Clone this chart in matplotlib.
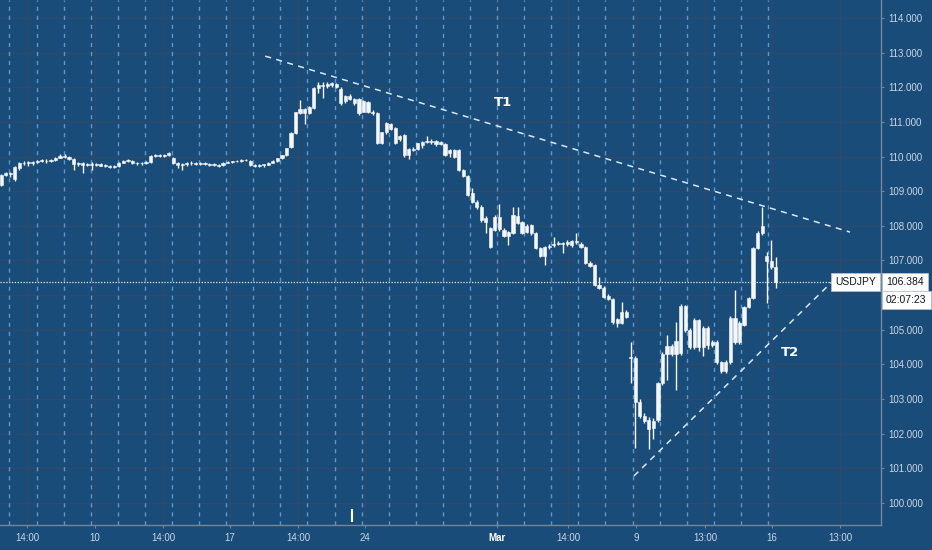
import numpy as np
import matplotlib.pyplot as plt
from matplotlib import transforms

plt.rcParams['font.family'] = ['Liberation Sans', 'DejaVu Sans']

# USDJPY, 4h candles (one row = 10 candles)
OPEN = [
    109.18, 109.48, 109.52, 109.35, 109.67, 109.80, 109.82, 109.81, 109.84, 109.87,
    109.88, 109.86, 109.90, 109.97, 110.02, 109.99, 109.92, 109.78, 109.80, 109.77,
    109.78, 109.75, 109.78, 109.74, 109.73, 109.71, 109.72, 109.82, 109.88, 109.87,
    109.80, 109.81, 109.80, 109.85, 110.02, 110.04, 110.03, 110.05, 109.97, 109.82,
    109.76, 109.78, 109.80, 109.81, 109.79, 109.81, 109.79, 109.77, 109.76, 109.76,
    109.82, 109.84, 109.86, 109.88, 109.89, 109.88, 109.76, 109.74, 109.75, 109.77,
    109.82, 109.87, 109.96, 110.04, 110.28, 110.68, 111.25, 111.36, 111.26, 111.40,
    111.97, 112.06, 112.03, 112.07, 112.10, 111.95, 111.60, 111.75, 111.66, 111.66,
    111.30, 111.58, 111.29, 111.26, 110.39, 110.70, 110.95, 110.82, 110.50, 110.62,
    110.05, 110.22, 110.22, 110.32, 110.42, 110.45, 110.44, 110.41, 110.36, 110.10,
    110.19, 110.19, 109.61, 109.44, 108.95, 108.69, 108.54, 108.23, 107.94, 107.88,
    108.26, 107.88, 107.70, 107.79, 108.28, 108.11, 107.82, 108.02, 107.79, 107.36,
    107.13, 107.39, 107.44, 107.48, 107.50, 107.47, 107.45, 107.56, 107.47, 107.39,
    106.93, 106.87, 106.29, 106.21, 105.98, 105.89, 105.31, 105.20, 105.51, 104.20,
    104.19, 102.92, 102.51, 102.40, 102.15, 102.40, 103.46, 104.30, 104.53, 104.30,
    104.33, 105.69, 104.99, 104.50, 105.28, 104.50, 105.05, 104.56, 104.65, 104.07,
    103.81, 104.07, 105.34, 104.65, 105.14, 105.66, 105.92, 107.36, 107.79, 107.13,
    106.98, 106.81,
]
HIGH = [
    109.50, 109.56, 109.55, 109.72, 109.85, 109.86, 109.88, 109.87, 109.90, 109.92,
    109.93, 109.92, 110.00, 110.06, 110.08, 110.03, 109.95, 109.84, 109.85, 109.82,
    109.83, 109.81, 109.80, 109.78, 109.76, 109.76, 109.84, 109.90, 109.92, 109.89,
    109.84, 109.85, 109.86, 110.04, 110.08, 110.07, 110.08, 110.14, 110.00, 109.85,
    109.80, 109.84, 109.86, 109.85, 109.84, 109.84, 109.82, 109.80, 109.79, 109.84,
    109.86, 109.88, 109.90, 109.92, 109.93, 109.90, 109.79, 109.78, 109.79, 109.84,
    109.90, 109.97, 110.05, 110.26, 110.72, 111.30, 111.62, 111.40, 111.46, 112.00,
    112.15, 112.15, 112.16, 112.16, 112.12, 112.00, 111.78, 111.82, 111.68, 111.68,
    111.62, 111.60, 111.35, 111.30, 110.72, 111.00, 110.98, 110.85, 110.62, 110.65,
    110.24, 110.28, 110.40, 110.46, 110.58, 110.52, 110.48, 110.46, 110.40, 110.22,
    110.22, 110.21, 109.65, 109.46, 109.09, 108.75, 108.60, 108.28, 107.98, 108.30,
    108.62, 107.94, 107.86, 108.54, 108.54, 108.15, 108.04, 108.06, 107.82, 107.40,
    107.42, 107.48, 107.68, 107.55, 107.54, 107.58, 107.60, 107.80, 107.52, 107.42,
    106.98, 106.90, 106.53, 106.26, 106.02, 105.93, 105.35, 105.80, 105.56, 104.65,
    104.25, 103.00, 102.60, 102.48, 102.45, 103.50, 104.35, 104.85, 104.60, 105.22,
    105.75, 105.72, 105.05, 105.35, 105.32, 105.10, 105.10, 104.70, 104.70, 104.10,
    104.12, 105.40, 106.15, 105.25, 105.70, 105.96, 107.40, 107.84, 108.53, 107.24,
    107.59, 107.10,
]
LOW = [
    109.15, 109.44, 109.42, 109.30, 109.62, 109.76, 109.74, 109.77, 109.80, 109.83,
    109.82, 109.84, 109.88, 109.95, 109.96, 109.90, 109.61, 109.74, 109.52, 109.72,
    109.62, 109.72, 109.72, 109.70, 109.68, 109.67, 109.70, 109.80, 109.84, 109.78,
    109.76, 109.77, 109.78, 109.82, 109.99, 110.00, 110.00, 110.02, 109.78, 109.68,
    109.62, 109.74, 109.76, 109.76, 109.75, 109.76, 109.74, 109.72, 109.70, 109.74,
    109.80, 109.82, 109.84, 109.85, 109.86, 109.72, 109.71, 109.70, 109.71, 109.75,
    109.80, 109.85, 109.94, 110.01, 110.25, 110.65, 111.22, 110.95, 111.22, 111.38,
    111.84, 111.70, 111.98, 112.00, 111.98, 111.50, 111.55, 111.62, 111.50, 111.20,
    111.28, 111.25, 111.20, 110.36, 110.36, 110.65, 110.78, 110.35, 110.45, 110.00,
    109.92, 110.15, 110.20, 110.25, 110.38, 110.36, 110.30, 110.34, 110.02, 110.00,
    109.95, 109.58, 109.40, 108.86, 108.65, 108.50, 108.10, 107.79, 107.36, 107.84,
    107.86, 107.68, 107.45, 107.76, 108.04, 107.76, 107.78, 107.75, 107.33, 107.10,
    106.87, 107.33, 107.40, 107.44, 107.23, 107.42, 107.40, 107.48, 107.36, 106.90,
    106.80, 106.26, 106.18, 105.92, 105.85, 105.18, 105.08, 105.16, 105.34, 103.46,
    101.60, 102.45, 102.30, 101.55, 101.85, 102.35, 103.40, 103.55, 104.25, 103.26,
    104.28, 104.95, 104.45, 104.45, 104.40, 104.25, 104.45, 104.50, 104.00, 103.75,
    103.76, 104.02, 104.60, 104.60, 105.10, 105.62, 105.88, 107.32, 107.75, 105.77,
    106.76, 106.21,
]
CLOSE = [
    109.47, 109.52, 109.49, 109.70, 109.80, 109.82, 109.81, 109.84, 109.87, 109.88,
    109.86, 109.89, 109.97, 110.02, 109.99, 109.92, 109.78, 109.80, 109.77, 109.78,
    109.75, 109.78, 109.74, 109.73, 109.71, 109.70, 109.82, 109.88, 109.87, 109.80,
    109.81, 109.80, 109.84, 110.02, 110.04, 110.03, 110.05, 110.10, 109.82, 109.76,
    109.78, 109.80, 109.81, 109.79, 109.81, 109.79, 109.77, 109.76, 109.74, 109.82,
    109.84, 109.86, 109.88, 109.89, 109.90, 109.76, 109.74, 109.75, 109.77, 109.82,
    109.87, 109.96, 110.04, 110.24, 110.68, 111.28, 111.36, 111.26, 111.43, 111.97,
    112.06, 112.05, 112.10, 112.13, 112.02, 111.55, 111.74, 111.66, 111.55, 111.26,
    111.60, 111.29, 111.26, 110.39, 110.70, 110.97, 110.80, 110.39, 110.60, 110.05,
    110.22, 110.20, 110.38, 110.42, 110.45, 110.43, 110.36, 110.37, 110.05, 110.18,
    109.99, 109.61, 109.44, 108.89, 108.69, 108.54, 108.17, 108.11, 107.39, 108.26,
    107.90, 107.71, 107.82, 108.31, 108.08, 107.79, 108.00, 107.79, 107.36, 107.13,
    107.39, 107.42, 107.48, 107.50, 107.47, 107.53, 107.56, 107.52, 107.39, 106.93,
    106.84, 106.29, 106.21, 105.95, 105.89, 105.22, 105.20, 105.51, 105.38, 104.19,
    102.92, 102.51, 102.37, 102.14, 102.38, 103.46, 104.30, 104.53, 104.30, 104.67,
    105.69, 104.99, 104.50, 105.28, 104.50, 105.05, 104.56, 104.65, 104.07, 103.81,
    104.07, 105.34, 104.65, 105.20, 105.66, 105.92, 107.36, 107.79, 108.00, 106.98,
    106.81, 106.384,
]
LAST = CLOSE[-1]

TIME_LABELS = ["14:00", "10", "14:00", "17", "14:00", "24", "Mar",
               "14:00", "9", "13:00", "16", "13:00"]
TIME_TICKS = [5.72, 20.73, 35.74, 50.53, 65.54, 80.33, 109.47,
              125.14, 140.15, 155.39, 170.18, 185.2]
PRICE_TICKS = [p for p in range(100, 115) if p != 106]

# hand drawn trend lines (candle index, price)
T1_X, T1_Y = [58.3, 187.4], [112.90, 107.82]
T2_X, T2_Y = [139.7, 183.4], [100.78, 106.38]
MARKER_X = 77.46

BG = "#1a4c79"
GRID = "#2e4a68"
SESSION = "#5a97d2"
CANDLE = "#f4f8fc"
AXIS = "#72879c"
TEXT = "#c9d6e3"

fig = plt.figure(figsize=(9.32, 5.5), dpi=100)
fig.patch.set_facecolor(BG)
ax = fig.add_axes([0, 25 / 550, 881 / 932, 525 / 550])
ax.set_facecolor(BG)

for p in range(100, 115):
    ax.axhline(p, color=GRID, lw=1, zorder=0)
for t in TIME_TICKS:
    ax.axvline(t, color=GRID, lw=1, zorder=0)
for d in np.arange(1.85, 170, 5.98):   # session breaks, one per day
    ax.axvline(d, color=SESSION, lw=1, ls=(0, (3, 3.5)), zorder=1)

o, h, l, c = map(np.asarray, (OPEN, HIGH, LOW, CLOSE))
x = np.arange(len(o))
ax.vlines(x, l, h, color=CANDLE, lw=1, zorder=3)
body = np.maximum(np.abs(c - o), 0.025)
ax.bar(x, body, bottom=np.minimum(o, c), width=0.7, color=CANDLE,
       edgecolor=CANDLE, linewidth=0.4, zorder=4)

ax.axhline(LAST, color="#e8f0f8", lw=0.9, ls=(0, (1, 1.3)), zorder=5)
ax.plot(T1_X, T1_Y, color="#d6e8f7", lw=1.1, ls=(0, (4, 3.5)), zorder=6)
ax.plot(T2_X, T2_Y, color="#d6e8f7", lw=1.1, ls=(0, (4, 3.5)), zorder=6)
ax.text(110.8, 111.55, "T1", color="white", fontsize=9.5, fontweight="bold",
        ha="center", va="center", family="DejaVu Sans", zorder=7)
ax.text(174.2, 104.33, "T2", color="white", fontsize=9.5, fontweight="bold",
        ha="center", va="center", family="DejaVu Sans", zorder=7)
ax.axvline(MARKER_X, ymin=0.008, ymax=0.029, color="white", lw=1.5, zorder=7)

ax.set_xlim(-0.243, 194.24)
ax.set_ylim(99.364, 114.52)
ax.yaxis.tick_right()
ax.set_yticks(PRICE_TICKS)
ax.set_yticklabels([f"{p:.3f}" for p in PRICE_TICKS])
ax.set_xticks(TIME_TICKS)
ax.set_xticklabels(TIME_LABELS)
ax.tick_params(axis="both", colors=AXIS, labelcolor=TEXT, labelsize=7,
               length=2.5, width=0.8, pad=3)
for lbl in ax.get_xticklabels():
    if lbl.get_text() == "Mar":
        lbl.set_fontweight("bold")
        lbl.set_color("white")
for side in ("top", "left"):
    ax.spines[side].set_visible(False)
for side in ("bottom", "right"):
    ax.spines[side].set_color(AXIS)
    ax.spines[side].set_linewidth(1)

# last price labels
blend = transforms.blended_transform_factory(ax.transAxes, ax.transData)
box = dict(boxstyle="square,pad=0.4", fc="white", ec="#b8c4d0", lw=0.5)
ax.text(0.9943, LAST, "USDJPY", transform=blend, ha="right", va="center",
        fontsize=7.5, color="#131722", bbox=box, zorder=10, clip_on=False)
ax.text(1.0057, LAST, f"{LAST:.3f}", transform=blend, ha="left", va="center",
        fontsize=7.5, color="#131722", bbox=box, zorder=10, clip_on=False)
ax.annotate("02:07:23", xy=(1.0057, LAST), xycoords=blend, xytext=(0, -18),
            textcoords="offset pixels", ha="left", va="center", fontsize=7.5,
            color="#131722", bbox=box, zorder=10, annotation_clip=False)

fig.savefig("out.png", dpi=100, facecolor=BG)
